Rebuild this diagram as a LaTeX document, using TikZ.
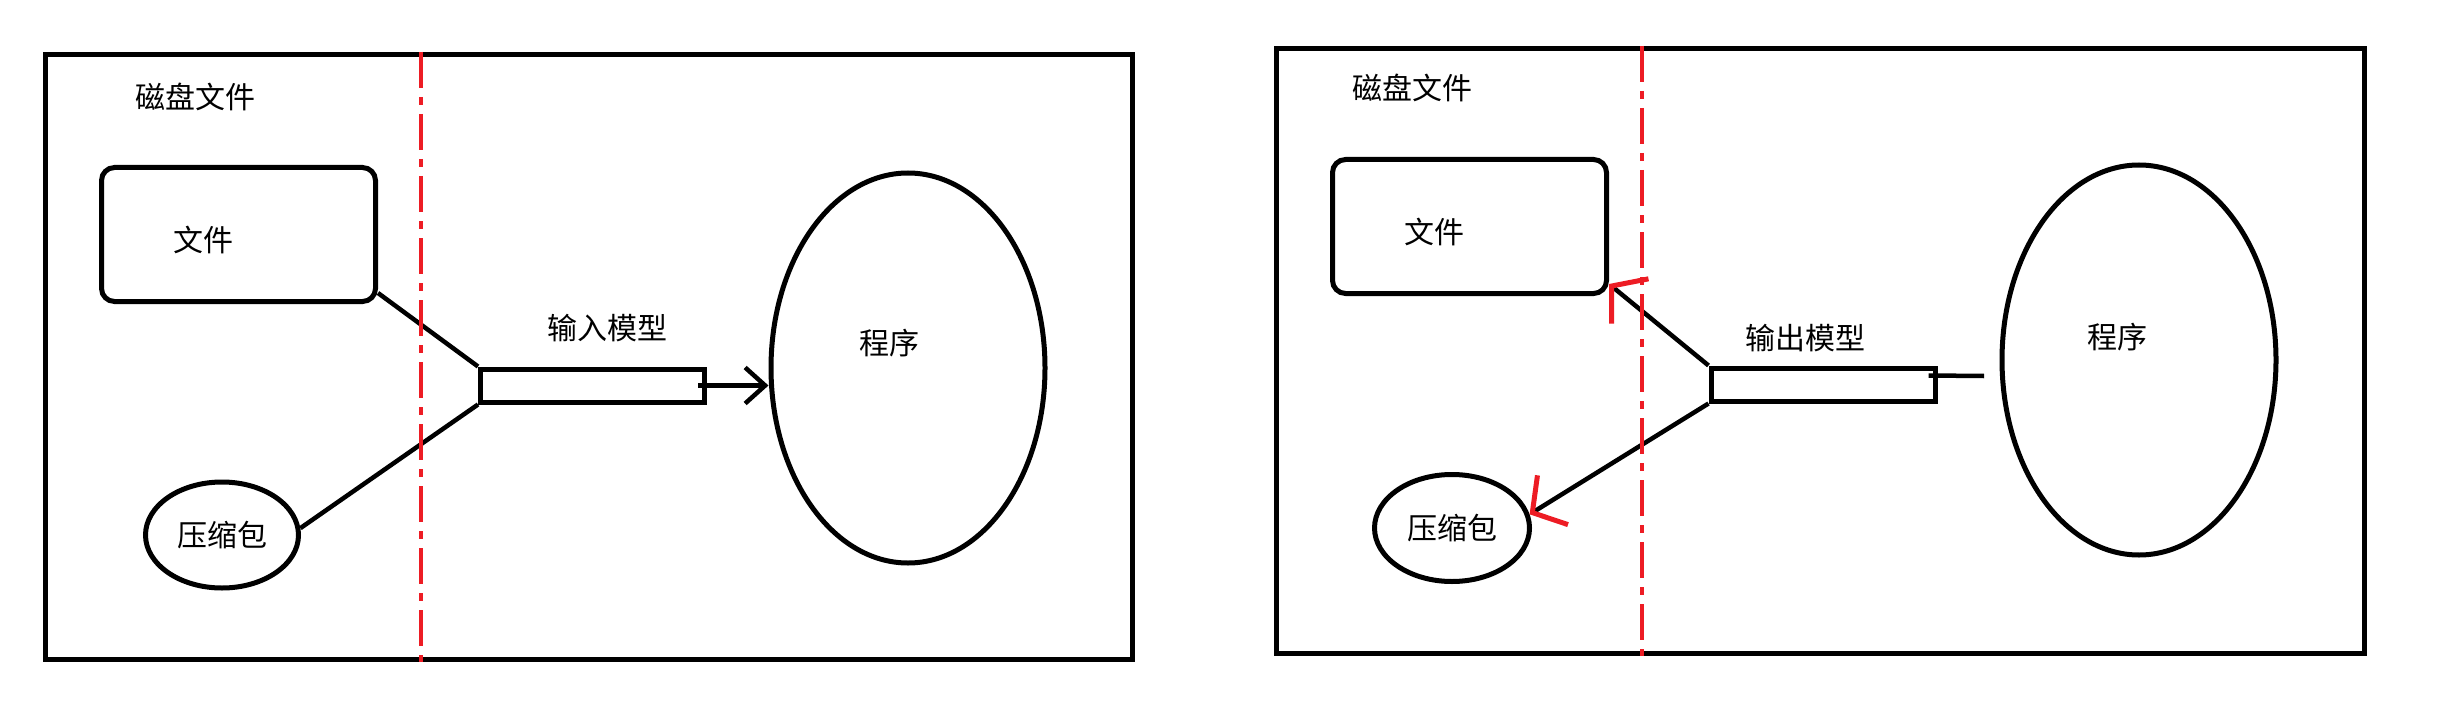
\documentclass[tikz,border=0pt]{standalone}
\usepackage{fontspec}
\newfontfamily\zhfont{Noto Sans CJK SC}
\usepackage{tikz}
\usetikzlibrary{shapes.geometric}
\usetikzlibrary{arrows.meta}
\definecolor{paintred}{RGB}{237,28,36}
\tikzset{>=latex}

\begin{document}
\begin{tikzpicture}[x=1pt,y=-1pt,line width=5pt,
  txt/.style={font=\zhfont\fontsize{30}{36}\selectfont, inner sep=0pt},
  filebox/.style={draw, rounded corners=13pt, minimum width=274pt,
    minimum height=134pt, inner sep=0pt},
  zipbox/.style={draw, ellipse, minimum width=153pt, minimum height=106pt,
    inner sep=0pt},
  progbox/.style={draw, ellipse, minimum width=274pt, minimum height=390pt,
    inner sep=0pt},
  pipebox/.style={draw, rectangle, minimum width=224pt, minimum height=33pt,
    inner sep=0pt},
  cutline/.style={draw=paintred, line width=4pt,
    dash pattern=on 36pt off 9pt on 8pt off 9pt},
  link/.style={line width=4.5pt},
  redtip/.style={-{Straight Barb[color=paintred,line width=5pt,
    length=24pt,width=58pt]}}]

\useasboundingbox (0,0) rectangle (2448,714);

% ---------------- Input side (left) ----------------
\draw (45.5,54.5) rectangle (1132.5,659.5);
\node[txt] (diskL) at (195,97) {磁盘文件};

\node[filebox] (fileL) at (238.5,234.5) {};
\node[txt] (fileLtxt) at (203,240) {文件};
\node[zipbox, txt] (zipL) at (222,535) {压缩包};

\node[pipebox] (pipeL) at (592.5,385.5) {};
\node[txt] (modelL) at (607,328) {输入模型};

\node[progbox] (progL) at (908,368) {};
\node[txt] (progLtxt) at (889,343) {程序};

\draw[link] ([yshift=11pt]fileL.south east) -- (pipeL.north west);
\draw[link] (zipL.5) -- (pipeL.south west);
\draw[link, -{Straight Barb[length=20pt,width=36pt]}]
  ([xshift=-9pt]pipeL.east) -- (pipeL.east -| progL.west);

% ---------------- Output side (right) ----------------
\draw (1276.5,48.5) rectangle (2364.5,653.5);
\node[txt] (diskR) at (1412,88) {磁盘文件};

\node[filebox] (fileR) at (1469.5,226.5) {};
\node[txt] (fileRtxt) at (1434,232) {文件};
\node[zipbox, txt, minimum width=155pt, minimum height=107pt]
  (zipR) at (1452,528) {压缩包};

\node[pipebox] (pipeR) at (1823,384.5) {};
\node[txt] (modelR) at (1805,338) {输出模型};

\node[progbox] (progR) at (2139,360) {};
\node[txt] (progRtxt) at (2117,337) {程序};

\coordinate (stubR) at (1984,376);

\draw[link, redtip] (pipeR.north west) -- ([yshift=12pt]fileR.south east);
\draw[link, redtip] (pipeR.south west) -- (zipR.10);
\draw[link] ([xshift=-9pt,yshift=9pt]pipeR.east) -- (stubR);

% ---------------- Cut lines ----------------
\foreach \x/\ya/\yb in {421/52/662, 1642/46/656}{
  \draw[cutline] (\x,\ya) -- (\x,\yb);
}

\end{tikzpicture}
\end{document}
